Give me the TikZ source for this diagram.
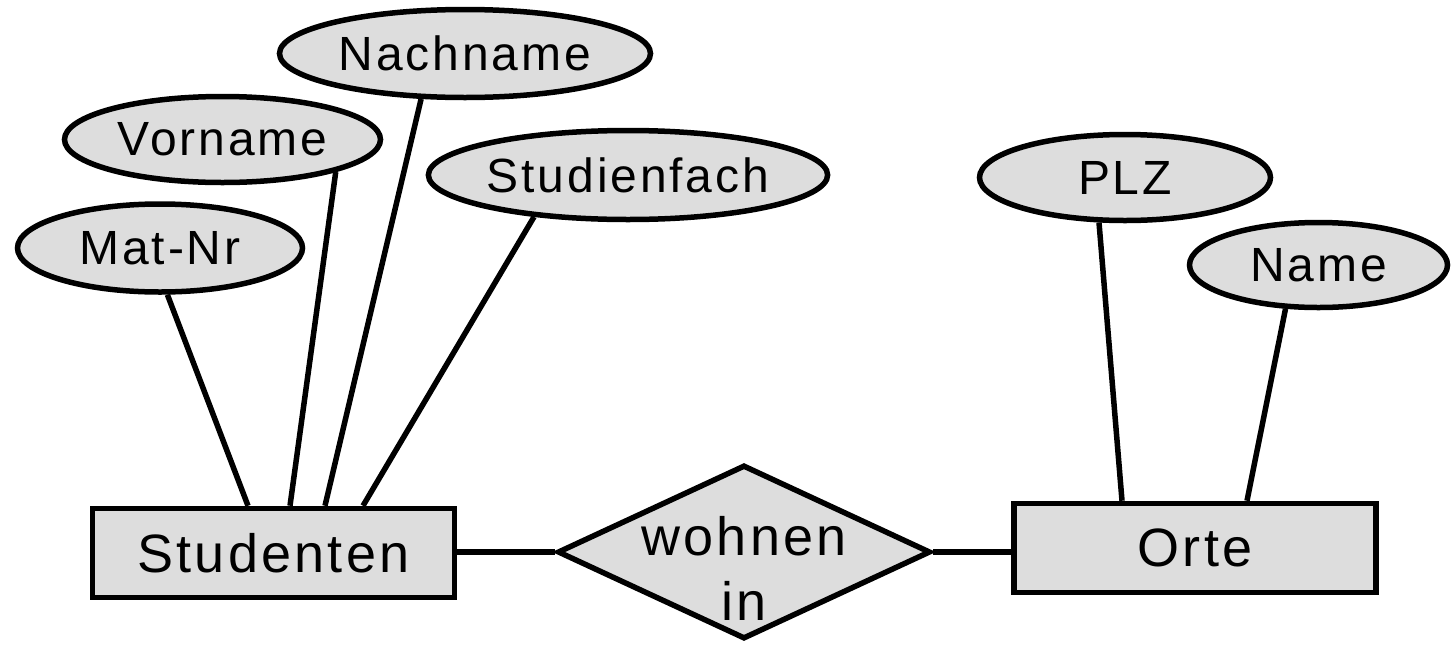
\documentclass[tikz,border=0pt]{standalone}
\usepackage{fontspec}
\setmainfont{Liberation Sans}[LetterSpace=6]
\usetikzlibrary{shapes.geometric,backgrounds}
\definecolor{erfill}{RGB}{221,221,221}
\tikzset{
  erline/.style={line width=5.5pt, draw=black},
  attr/.style={ellipse, draw=black, fill=erfill, line width=5.5pt, inner sep=0pt,
    font=\fontsize{48}{58}\selectfont},
  entity/.style={rectangle, draw=black, fill=erfill, line width=5.5pt, inner sep=0pt,
    minimum width=362pt, minimum height=89pt, font=\fontsize{54}{65}\selectfont},
  relation/.style={diamond, draw=black, fill=erfill, line width=5.5pt, inner sep=0pt,
    minimum width=373pt, minimum height=174pt},
  reltext/.style={align=center, inner sep=0pt, font=\fontsize{54}{65}\selectfont}
}
\begin{document}
\begin{tikzpicture}[x=1pt,y=-1pt]
\useasboundingbox (0,0) rectangle (1451,646);

% entities and relation
\node[entity] (stud) at (273.5,553) {Studenten};
\node[entity] (orte) at (1195,548) {Orte};
\node[relation] (rel) at (744,552) {};
\node[reltext] (reltxt) at (744,568) {wohnen\\in};

% attributes
\node[attr, minimum width=285pt, minimum height=88pt] (matnr) at (160,248) {Mat-Nr};
\node[attr, minimum width=316pt, minimum height=86pt] (vorname) at (222.5,139.5) {Vorname};
\node[attr, minimum width=371pt, minimum height=88pt] (nachname) at (465,53.5) {Nachname};
\node[attr, minimum width=395pt, minimum height=89pt] (fach) at (628,175) {Studienfach};
\node[attr, minimum width=291pt, minimum height=86pt] (plz) at (1125,177.5) {PLZ};
\node[attr, minimum width=258pt, minimum height=85pt] (name) at (1318.5,265) {Name};

\begin{pgfonlayer}{background}
\draw[erline] (matnr.-81) -- ([xshift=-25.5pt]stud.north);
\draw[erline] (vorname.-16.3) -- ([xshift=16.5pt]stud.north);
\draw[erline] (nachname.-134.4) -- ([xshift=51.5pt]stud.north);
\draw[erline] (fach.-156.5) -- ([xshift=89.5pt]stud.north);
\draw[erline] (plz.-120.5) -- ([xshift=-73pt]orte.north);
\draw[erline] (name.-127.4) -- ([xshift=52pt]orte.north);
\draw[erline] (stud.east |- rel.west) -- (rel.west);
\draw[erline] (rel.east) -- (orte.west |- rel.east);
\end{pgfonlayer}
\end{tikzpicture}
\end{document}
